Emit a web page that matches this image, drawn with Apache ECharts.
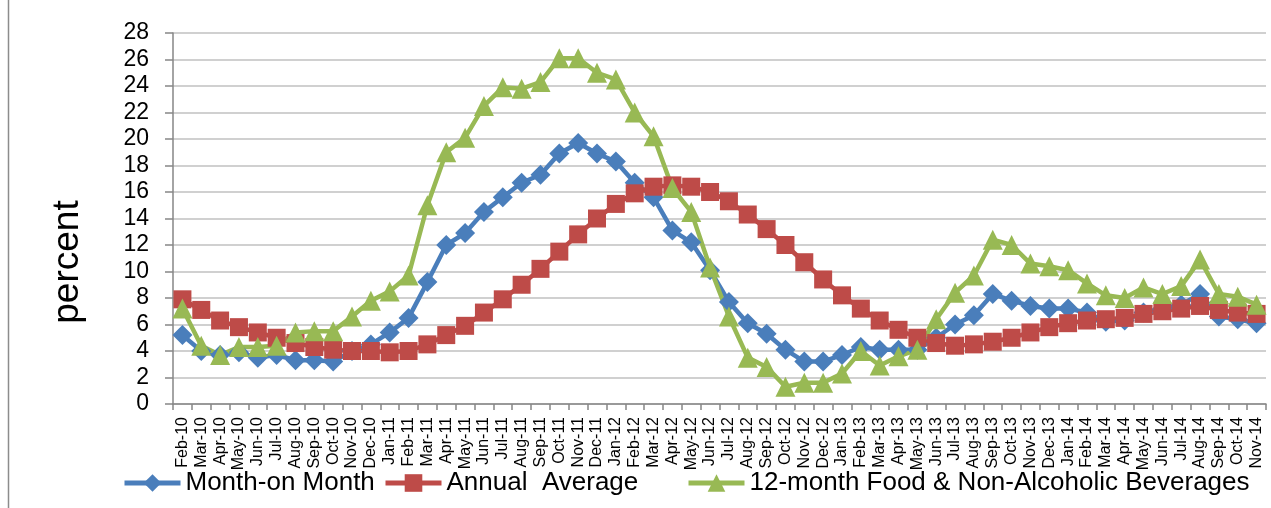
<!DOCTYPE html>
<html>
<head>
<meta charset="utf-8">
<script src="https://cdn.jsdelivr.net/npm/echarts@6/dist/echarts.min.js"></script>
<style>
html,body{margin:0;padding:0;background:#fff;}
#chart{width:1271px;height:508px;}
</style>
</head>
<body>
<div id="chart"></div>
<script>
var categories = ["Feb-10","Mar-10","Apr-10","May-10","Jun-10","Jul-10","Aug-10","Sep-10","Oct-10","Nov-10","Dec-10",
"Jan-11","Feb-11","Mar-11","Apr-11","May-11","Jun-11","Jul-11","Aug-11","Sep-11","Oct-11","Nov-11","Dec-11",
"Jan-12","Feb-12","Mar-12","Apr-12","May-12","Jun-12","Jul-12","Aug-12","Sep-12","Oct-12","Nov-12","Dec-12",
"Jan-13","Feb-13","Mar-13","Apr-13","May-13","Jun-13","Jul-13","Aug-13","Sep-13","Oct-13","Nov-13","Dec-13",
"Jan-14","Feb-14","Mar-14","Apr-14","May-14","Jun-14","Jul-14","Aug-14","Sep-14","Oct-14","Nov-14"];

var monthOnMonth = [5.2,4.0,3.7,3.9,3.5,3.7,3.3,3.3,3.2,4.0,4.5,
5.4,6.5,9.2,12.0,12.9,14.5,15.6,16.7,17.3,18.9,19.7,18.9,
18.3,16.7,15.6,13.1,12.2,10.1,7.7,6.1,5.3,4.1,3.2,3.2,
3.7,4.3,4.1,4.1,4.1,5.0,6.0,6.7,8.3,7.8,7.4,7.2,
7.2,6.9,6.2,6.3,6.9,7.2,7.5,8.3,6.6,6.4,6.1];

var annualAverage = [7.9,7.1,6.3,5.8,5.4,5.0,4.6,4.3,4.1,4.0,4.0,
3.9,4.0,4.5,5.2,5.9,6.9,7.9,9.0,10.2,11.5,12.8,14.0,
15.1,15.9,16.4,16.5,16.4,16.0,15.3,14.3,13.2,12.0,10.7,9.4,
8.2,7.2,6.3,5.6,5.0,4.6,4.4,4.5,4.7,5.0,5.4,5.8,
6.1,6.3,6.4,6.5,6.8,7.0,7.2,7.4,7.1,6.9,6.8];

var foodBeverages = [7.2,4.4,3.7,4.3,4.3,4.4,5.4,5.5,5.5,6.6,7.8,
8.5,9.7,15.0,19.0,20.1,22.5,23.9,23.8,24.3,26.1,26.1,25.0,
24.5,22.0,20.2,16.3,14.5,10.3,6.6,3.5,2.8,1.3,1.6,1.6,
2.3,4.0,2.9,3.6,4.1,6.4,8.4,9.7,12.4,12.0,10.6,10.4,
10.1,9.1,8.2,8.0,8.8,8.3,8.9,10.9,8.3,8.1,7.5];

var seriesNames = ["Month-on Month","Annual  Average","12-month Food & Non-Alcoholic Beverages"];
var yTicks = {min:0, max:28, interval:2};

var font = "'Liberation Sans','Arial',sans-serif";
var colors = ['#4a7ebb','#be4b48','#98b954'];

function legendFor(i, left){
  return {
    data:[seriesNames[i]], left:left, top:470, padding:0,
    itemWidth:56, itemHeight:22,
    lineStyle:{width:5},
    textStyle:{fontFamily:font, fontSize:26, color:'#000'}
  };
}

var chart = echarts.init(document.getElementById('chart'), null, {renderer:'canvas'});
chart.setOption({
  animation:false,
  backgroundColor:'#ffffff',
  grid:{left:173, right:5, top:33, bottom:104, containLabel:false},
  legend:[legendFor(0,122), legendFor(1,383), legendFor(2,686)],
  graphic:[
    {type:'line', shape:{x1:8.5,y1:0,x2:8.5,y2:508}, style:{stroke:'#8c8c8c', lineWidth:1.5}, silent:true},
    {type:'text', x:68, y:262, rotation:Math.PI/2,
     style:{text:'percent', font:"37px 'Liberation Sans',sans-serif", fill:'#000', textAlign:'center', textVerticalAlign:'middle'}}
  ],
  xAxis:{
    type:'category', data:categories, boundaryGap:true,
    axisLine:{lineStyle:{color:'#868686', width:1.5}},
    axisTick:{show:true, length:6, alignWithLabel:false, lineStyle:{color:'#868686', width:1.5}},
    axisLabel:{interval:0, rotate:90, margin:13, fontFamily:font, fontSize:16, color:'#000'},
    splitLine:{show:false}
  },
  yAxis:{
    type:'value', min:yTicks.min, max:yTicks.max, interval:yTicks.interval,
    axisLine:{show:true, lineStyle:{color:'#868686', width:1.5}},
    axisTick:{show:true, length:8, lineStyle:{color:'#868686', width:1.5}},
    axisLabel:{margin:24, fontFamily:font, fontSize:23, color:'#000'},
    splitLine:{show:true, lineStyle:{color:'#c0c0c0', width:1.5}}
  },
  series:[
    {name:seriesNames[0], type:'line', data:monthOnMonth, symbol:'diamond', symbolSize:20,
     lineStyle:{color:colors[0], width:4.5}, itemStyle:{color:colors[0]}},
    {name:seriesNames[1], type:'line', data:annualAverage, symbol:'rect', symbolSize:18,
     lineStyle:{color:colors[1], width:4.5}, itemStyle:{color:colors[1]}},
    {name:seriesNames[2], type:'line', data:foodBeverages, symbol:'triangle', symbolSize:20,
     lineStyle:{color:colors[2], width:4.5}, itemStyle:{color:colors[2]}}
  ]
});
</script>
</body>
</html>
